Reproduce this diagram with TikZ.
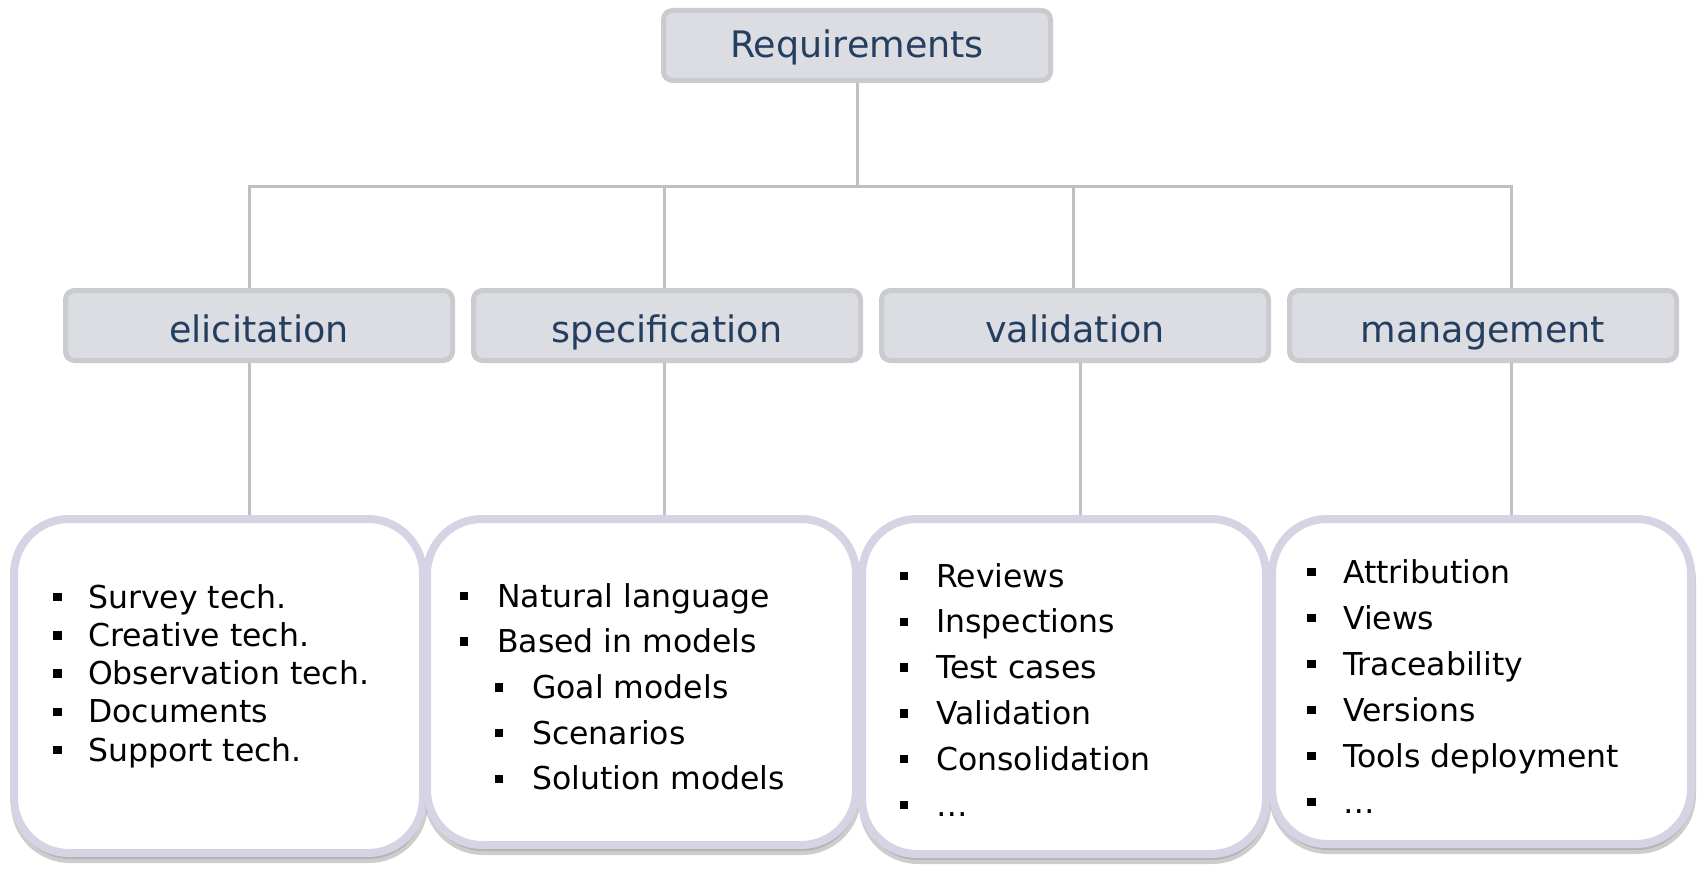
\documentclass[tikz,border=0pt]{standalone}
\usepackage{fontspec}
\setmainfont{DejaVu Sans}
\usetikzlibrary{shadows,backgrounds}
\definecolor{hdrfill}{RGB}{220,221,226}
\definecolor{hdrline}{RGB}{201,203,207}
\definecolor{hdrtext}{RGB}{35,62,95}
\definecolor{conncol}{RGB}{190,192,196}
\definecolor{boxline}{RGB}{212,212,228}
\definecolor{shadowcol}{RGB}{155,155,155}
\begin{document}
\begin{tikzpicture}[x=1pt,y=-1pt,
 hdr/.style={draw=hdrline, fill=hdrfill, line width=5pt, rounded corners=9pt,
   minimum width=387pt, minimum height=70pt, inner sep=0pt, text=hdrtext,
   text height=24pt, text depth=0pt, font=\fontsize{36.5}{40}\selectfont},
 hdrtwo/.style={hdr, text height=33pt},
 conn/.style={draw=conncol, line width=3pt},
 listbox/.style={draw=boxline, fill=white, line width=8pt, rounded corners=55pt,
   inner sep=0pt, drop shadow={shadow xshift=1pt, shadow yshift=-6pt,
   fill=shadowcol, draw=shadowcol, line width=8pt}},
 item/.style={anchor=base west, inner sep=0pt, font=\fontsize{31.5}{36}\selectfont},
 blt/.style={fill=black, minimum size=8.5pt, inner sep=0pt, draw=none}
]
\useasboundingbox (0,0) rectangle (1698,869);

\coordinate (j1) at (249,187);
\coordinate (j2) at (664,187);
\coordinate (j3) at (1073,187);
\coordinate (j4) at (1511,187);
\coordinate (k1) at (249,0);
\coordinate (k2) at (664,0);
\coordinate (k3) at (1080,0);
\coordinate (k4) at (1511,0);

% headers
\node[hdr] (req) at (857,45.5) {Requirements};
\node[hdrtwo] (elic) at (259,325.5) {elicitation};
\node[hdrtwo] (spec) at (667,325.5) {specification};
\node[hdrtwo] (vali) at (1075,325.5) {validation};
\node[hdrtwo] (mgmt) at (1483,325.5) {management};

% list boxes
\node[listbox, minimum width=409pt, minimum height=334pt] (l1) at (218.5,686) {};
\node[listbox, minimum width=429pt, minimum height=326pt] (l2) at (641.5,682) {};
\node[listbox, minimum width=404pt, minimum height=335pt] (l3) at (1064,686.5) {};
\node[listbox, minimum width=419pt, minimum height=325pt] (l4) at (1481.5,681.5) {};

% connectors behind the boxes
\begin{pgfonlayer}{background}
\draw[conn] (req.south) -- (req.south |- j1);
\draw[conn] (j1 |- elic.north) -- (j1) -- (j4) -- (j4 |- mgmt.north);
\draw[conn] (j2) -- (j2 |- spec.north);
\draw[conn] (j3) -- (j3 |- vali.north);
\draw[conn] (elic.south -| k1) -- ([yshift=-4pt]l1.north -| k1);
\draw[conn] (spec.south -| k2) -- ([yshift=-4pt]l2.north -| k2);
\draw[conn] (vali.south -| k3) -- ([yshift=-4pt]l3.north -| k3);
\draw[conn] (mgmt.south -| k4) -- ([yshift=-4pt]l4.north -| k4);
\end{pgfonlayer}

% box 1 items
\foreach \t [count=\i from 0] in {Survey tech.,Creative tech.,Observation tech.,Documents,Support tech.}{
  \node[blt] (b1-\i) at (57.5,{608+38.3*\i-11}) {};
  \node[item] (t1-\i) at (88,{608+38.3*\i}) {\t};
}
% box 2 items
\node[blt] (b2-0) at (464,596) {};
\node[item] (t2-0) at (497,607) {Natural language};
\node[blt] (b2-1) at (464,641.5) {};
\node[item] (t2-1) at (497,652.5) {Based in models};
\foreach \t [count=\i from 2] in {Goal models,Scenarios,Solution models}{
  \node[blt] (b2-\i) at (499,{607+45.7*\i-11}) {};
  \node[item] (t2-\i) at (532,{607+45.7*\i}) {\t};
}
% box 3 items
\foreach \t [count=\i from 0] in {Reviews,Inspections,Test cases,Validation,Consolidation,…}{
  \node[blt] (b3-\i) at (904,{587+45.8*\i-11}) {};
  \node[item] (t3-\i) at (936,{587+45.8*\i}) {\t};
}
% box 4 items
\foreach \t [count=\i from 0] in {Attribution,Views,Traceability,Versions,Tools deployment,…}{
  \node[blt] (b4-\i) at (1311.5,{583+46*\i-11}) {};
  \node[item] (t4-\i) at (1343,{583+46*\i}) {\t};
}
\end{tikzpicture}
\end{document}
